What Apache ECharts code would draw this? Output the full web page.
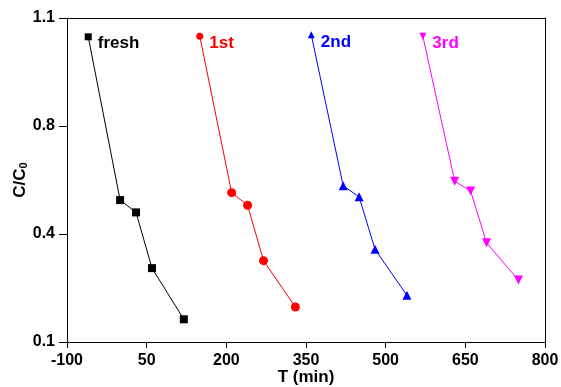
<!DOCTYPE html>
<html>
<head>
<meta charset="utf-8">
<script src="https://cdn.jsdelivr.net/npm/echarts@6/dist/echarts.min.js"></script>
<style>
html,body{margin:0;padding:0;background:#fff;}
#c{width:561px;height:387px;}
</style>
</head>
<body>
<div id="c"></div>
<script>
// Data (T in min, C/C0)
const seriesNames = ['fresh', '1st', '2nd', '3rd'];
const freshT = [-60, 0, 30, 60, 120];
const freshC = [1.042, 0.538, 0.500, 0.328, 0.170];
const firstT = [150, 210, 240, 270, 330];
const firstC = [1.044, 0.561, 0.522, 0.351, 0.208];
const secondT = [360, 420, 450, 480, 540];
const secondC = [1.048, 0.582, 0.548, 0.386, 0.244];
const thirdT = [570, 630, 660, 690, 750];
const thirdC = [1.044, 0.596, 0.566, 0.406, 0.291];
const xTicks = [-100, 50, 200, 350, 500, 650, 800];
const yTickLabels = ['0.1', '0.4', '0.8', '1.1'];

const FONT = '"Liberation Sans", Arial, sans-serif';
const colors = ['#000000', '#ff0000', '#0000ff', '#ff00ff'];
const symbols = ['rect', 'circle', 'triangle', 'triangle'];
const rotates = [0, 0, 0, 180];
const allT = [freshT, firstT, secondT, thirdT];
const allC = [freshC, firstC, secondC, thirdC];

const series = seriesNames.map((name, i) => ({
  name: name,
  type: 'line',
  data: allT[i].map((t, j) => [t, allC[i][j]]),
  symbol: symbols[i],
  symbolRotate: rotates[i],
  symbolSize: (v, p) => (p.dataIndex === 0 ? 7 : (i === 0 ? 8 : 9)),
  showSymbol: true,
  lineStyle: { color: colors[i], width: 1 },
  itemStyle: { color: colors[i] },
  label: {
    show: true,
    position: 'right',
    distance: 6,
    offset: [0, 7],
    formatter: p => (p.dataIndex === 0 ? name : ''),
    color: colors[i],
    fontFamily: FONT,
    fontWeight: 'bold',
    fontSize: 17
  },
  animation: false,
  z: 3
}));

const frameLine = { show: true, onZero: false, lineStyle: { color: '#000', width: 1 } };

const chart = echarts.init(document.getElementById('c'), null, { renderer: 'canvas' });
chart.setOption({
  backgroundColor: '#ffffff',
  animation: false,
  grid: { left: 67, right: 16, top: 18, bottom: 45, show: false, containLabel: false, outerBoundsMode: 'none' },
  xAxis: [{
    type: 'value',
    position: 'bottom',
    min: xTicks[0],
    max: xTicks[xTicks.length - 1],
    interval: xTicks[1] - xTicks[0],
    name: 'T (min)',
    nameLocation: 'middle',
    nameGap: 27,
    nameMoveOverlap: false,
    nameTextStyle: { fontFamily: FONT, fontWeight: 'bold', fontSize: 17, color: '#000' },
    axisLine: frameLine,
    axisTick: { show: true, inside: false, length: 6, lineStyle: { color: '#000' } },
    axisLabel: { fontFamily: FONT, fontWeight: 'bold', fontSize: 16, color: '#000', margin: 11 },
    splitLine: { show: false }
  }, {
    type: 'value', position: 'top', min: xTicks[0], max: xTicks[xTicks.length - 1],
    axisLine: frameLine,
    axisTick: { show: false }, axisLabel: { show: false }, splitLine: { show: false }
  }],
  yAxis: [{
    type: 'value',
    position: 'left',
    min: 0.1,
    max: 1.1,
    interval: 1 / 3,
    name: '{a|C/C}{b|0}',
    nameLocation: 'middle',
    nameGap: 38,
    nameMoveOverlap: false,
    nameRotate: 90,
    nameTextStyle: {
      rich: {
        a: { fontFamily: FONT, fontWeight: 'bold', fontSize: 17, color: '#000' },
        b: { fontFamily: FONT, fontWeight: 'bold', fontSize: 11, color: '#000', verticalAlign: 'bottom', padding: [7, 0, 0, 0] }
      }
    },
    axisLine: frameLine,
    axisTick: { show: true, inside: false, length: 8, lineStyle: { color: '#000' } },
    axisLabel: {
      fontFamily: FONT, fontWeight: 'bold', fontSize: 16, color: '#000', margin: 12,
      formatter: v => {
        const idx = Math.round((v - 0.1) * 3);
        return yTickLabels[idx] !== undefined ? yTickLabels[idx] : v.toFixed(1);
      }
    },
    splitLine: { show: false }
  }, {
    type: 'value', position: 'right', min: 0.1, max: 1.1,
    axisLine: frameLine,
    axisTick: { show: false }, axisLabel: { show: false }, splitLine: { show: false }
  }],
  series: series
});
</script>
</body>
</html>
